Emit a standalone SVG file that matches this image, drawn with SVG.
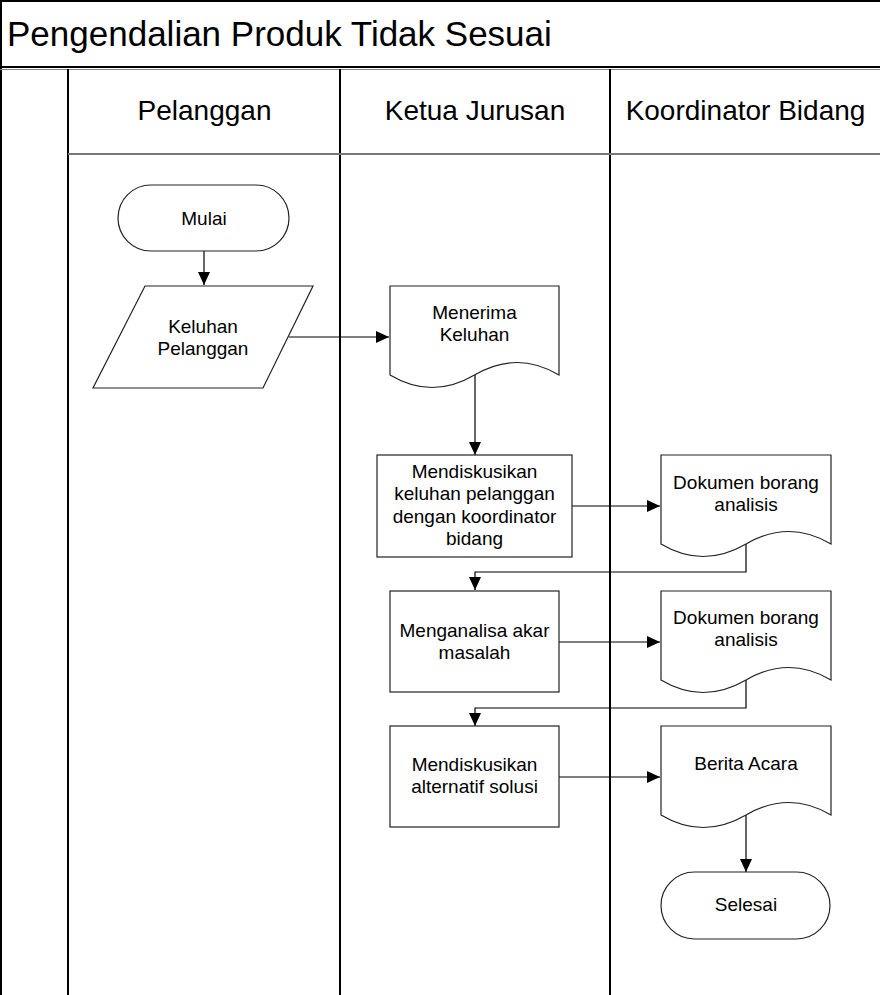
<svg xmlns="http://www.w3.org/2000/svg" width="880" height="995" viewBox="0 0 880 995">
<style>
  text { font-family: "Liberation Sans", Arial, sans-serif; fill: #000; }
  .title { font-size: 35px; }
  .lane { font-size: 28px; text-anchor: middle; }
  .t { font-size: 19px; text-anchor: middle; }
  .shape { fill: #fff; stroke: #222; stroke-width: 1.2; }
  .frame { stroke: #000; stroke-width: 2; fill: none; }
  .conn { stroke: #000; stroke-width: 1.2; fill: none; }
</style>
<defs>
  <marker id="arr" markerUnits="userSpaceOnUse" markerWidth="14" markerHeight="12" refX="13" refY="6" orient="auto">
    <path d="M0,0 L13,6 L0,12 z" fill="#000"/>
  </marker>
</defs>
<rect x="0" y="0" width="880" height="995" fill="#fff"/>
<g id="frame">
  <line class="frame" x1="0" y1="1" x2="880" y2="1"/>
  <line class="frame" x1="1" y1="0" x2="1" y2="995"/>
  <line x1="0" y1="67" x2="880" y2="67" stroke="#000" stroke-width="2"/>
  <line x1="0" y1="69.5" x2="880" y2="69.5" stroke="#888" stroke-width="1.2"/>
  <line class="frame" x1="68" y1="69" x2="68" y2="995"/>
  <line class="frame" x1="340" y1="69" x2="340" y2="995"/>
  <line class="frame" x1="610" y1="69" x2="610" y2="995"/>
  <line x1="68" y1="154" x2="880" y2="154" stroke="#777" stroke-width="2"/>
  <text class="title" x="7" y="46">Pengendalian Produk Tidak Sesuai</text>
  <text class="lane" x="204.5" y="120">Pelanggan</text>
  <text class="lane" x="475" y="120">Ketua Jurusan</text>
  <text class="lane" x="745.5" y="120">Koordinator Bidang</text>
</g>
<g id="connectors">
  <line class="conn" x1="204" y1="251" x2="204" y2="285" marker-end="url(#arr)"/>
  <line class="conn" x1="289" y1="337" x2="389" y2="337" marker-end="url(#arr)"/>
  <line class="conn" x1="475" y1="375" x2="475" y2="455" marker-end="url(#arr)"/>
  <line class="conn" x1="572" y1="506" x2="660" y2="506" marker-end="url(#arr)"/>
  <polyline class="conn" points="746,544 746,572 475,572 475,590" marker-end="url(#arr)"/>
  <line class="conn" x1="559" y1="642" x2="660" y2="642" marker-end="url(#arr)"/>
  <polyline class="conn" points="746,680 746,708 475,708 475,726" marker-end="url(#arr)"/>
  <line class="conn" x1="559" y1="777" x2="660" y2="777" marker-end="url(#arr)"/>
  <line class="conn" x1="746" y1="815" x2="746" y2="872" marker-end="url(#arr)"/>
</g>
<g id="mulai">
  <rect class="shape" x="118" y="185" width="171" height="66" rx="33" ry="33"/>
  <text class="t" x="204" y="225">Mulai</text>
</g>
<g id="keluhan-pelanggan">
  <polygon class="shape" points="145,286 313,286 263,388 93,388"/>
  <text class="t" x="203" y="333">Keluhan</text>
  <text class="t" x="203" y="355">Pelanggan</text>
</g>
<g id="menerima-keluhan">
  <path class="shape" d="M390,286 H559 V375 Q517,350 474.5,375 Q432,400 390,375 Z"/>
  <text class="t" x="474.5" y="319">Menerima</text>
  <text class="t" x="474.5" y="341">Keluhan</text>
</g>
<g id="mendiskusikan-keluhan">
  <rect class="shape" x="377" y="455" width="195" height="102"/>
  <text class="t" x="474.5" y="478">Mendiskusikan</text>
  <text class="t" x="474.5" y="500">keluhan pelanggan</text>
  <text class="t" x="474.5" y="523">dengan koordinator</text>
  <text class="t" x="474.5" y="545">bidang</text>
</g>
<g id="dokumen-borang-1">
  <path class="shape" d="M661,455 H831 V544 Q789,519 746,544 Q703,569 661,544 Z"/>
  <text class="t" x="746" y="489">Dokumen borang</text>
  <text class="t" x="746" y="511">analisis</text>
</g>
<g id="menganalisa">
  <rect class="shape" x="390" y="591" width="169" height="101"/>
  <text class="t" x="474.5" y="637">Menganalisa akar</text>
  <text class="t" x="474.5" y="659">masalah</text>
</g>
<g id="dokumen-borang-2">
  <path class="shape" d="M661,591 H831 V680 Q789,655 746,680 Q703,705 661,680 Z"/>
  <text class="t" x="746" y="624">Dokumen borang</text>
  <text class="t" x="746" y="646">analisis</text>
</g>
<g id="mendiskusikan-alternatif">
  <rect class="shape" x="390" y="726" width="169" height="101"/>
  <text class="t" x="474.5" y="771">Mendiskusikan</text>
  <text class="t" x="474.5" y="793">alternatif solusi</text>
</g>
<g id="berita-acara">
  <path class="shape" d="M661,726 H831 V815 Q789,790 746,815 Q703,840 661,815 Z"/>
  <text class="t" x="746" y="770">Berita Acara</text>
</g>
<g id="selesai">
  <rect class="shape" x="661" y="872" width="169" height="67" rx="33.5" ry="33.5"/>
  <text class="t" x="746" y="911">Selesai</text>
</g>
</svg>
